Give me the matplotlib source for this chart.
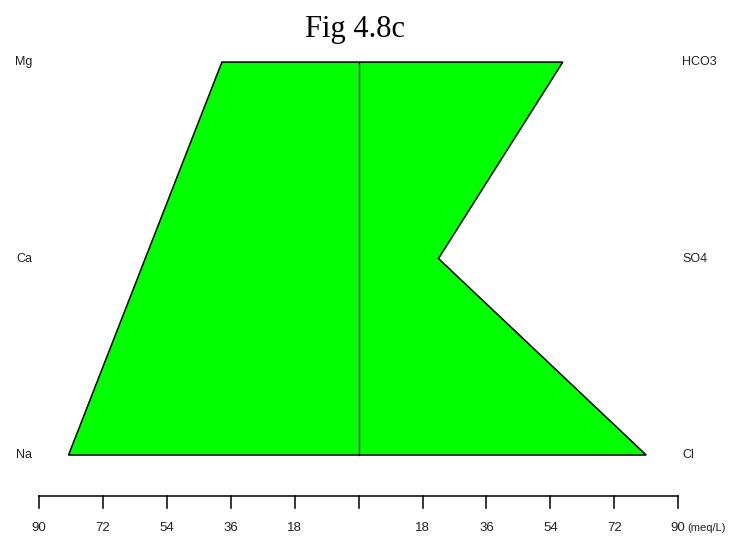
import numpy as np
import matplotlib.pyplot as plt

# Stiff diagram values (meq/L), bottom row first
cations = ['Na', 'Ca', 'Mg']
cation_meq = [81.7, 60.1, 38.5]
anions = ['Cl', 'SO4', 'HCO3']
anion_meq = [81.0, 22.5, 57.5]

tick_vals = [-90, -72, -54, -36, -18, 0, 18, 36, 54, 72, 90]
tick_text = ['90', '72', '54', '36', '18', '', '18', '36', '54', '72', '90']

plt.rcParams['font.family'] = ['Liberation Sans', 'DejaVu Sans']

fig = plt.figure(figsize=(7.3, 5.4), dpi=100)
ax = fig.add_axes([0, 0, 1, 1])
ax.set_xlim(-101.0, 104.6)
ax.set_ylim(-0.4326, 2.316)
ax.axis('off')

rows = np.arange(len(cations))

# polygon: cations on the left (negative), anions on the right
xs = np.concatenate([-np.array(cation_meq), np.array(anion_meq)[::-1]])
ys = np.concatenate([rows, rows[::-1]])
ax.fill(xs, ys, facecolor='#00ff00', edgecolor='black', linewidth=1.1)
ax.plot([0, 0], [rows[0], rows[-1]], color='black', linewidth=0.9)

# ion names at both sides
for r, name in zip(rows, cations):
    ax.text(-92.0, r, name, ha='right', va='center', fontsize=9, color='#222222')
for r, name in zip(rows, anions):
    ax.text(91.1, r, name, ha='left', va='center', fontsize=9, color='#222222')

# bottom scale
y_axis = -0.2087
tick_len = 0.062
ax.plot([tick_vals[0], tick_vals[-1]], [y_axis, y_axis], color='black', linewidth=1.1)
for v, t in zip(tick_vals, tick_text):
    ax.plot([v, v], [y_axis, y_axis - tick_len], color='black', linewidth=1.1)
    if t:
        ax.text(v, -0.3715, t, ha='center', va='center', fontsize=9.5, color='#222222')
ax.text(tick_vals[-1] + 2.6, -0.3715, '(meq/L)', ha='left', va='center', fontsize=8, color='#222222')

fig.text(355 / 730, 1 - 29 / 540, 'Fig 4.8c', ha='center', va='center',
         fontsize=22, family='Liberation Serif')

fig.savefig('out.png', dpi=100)
